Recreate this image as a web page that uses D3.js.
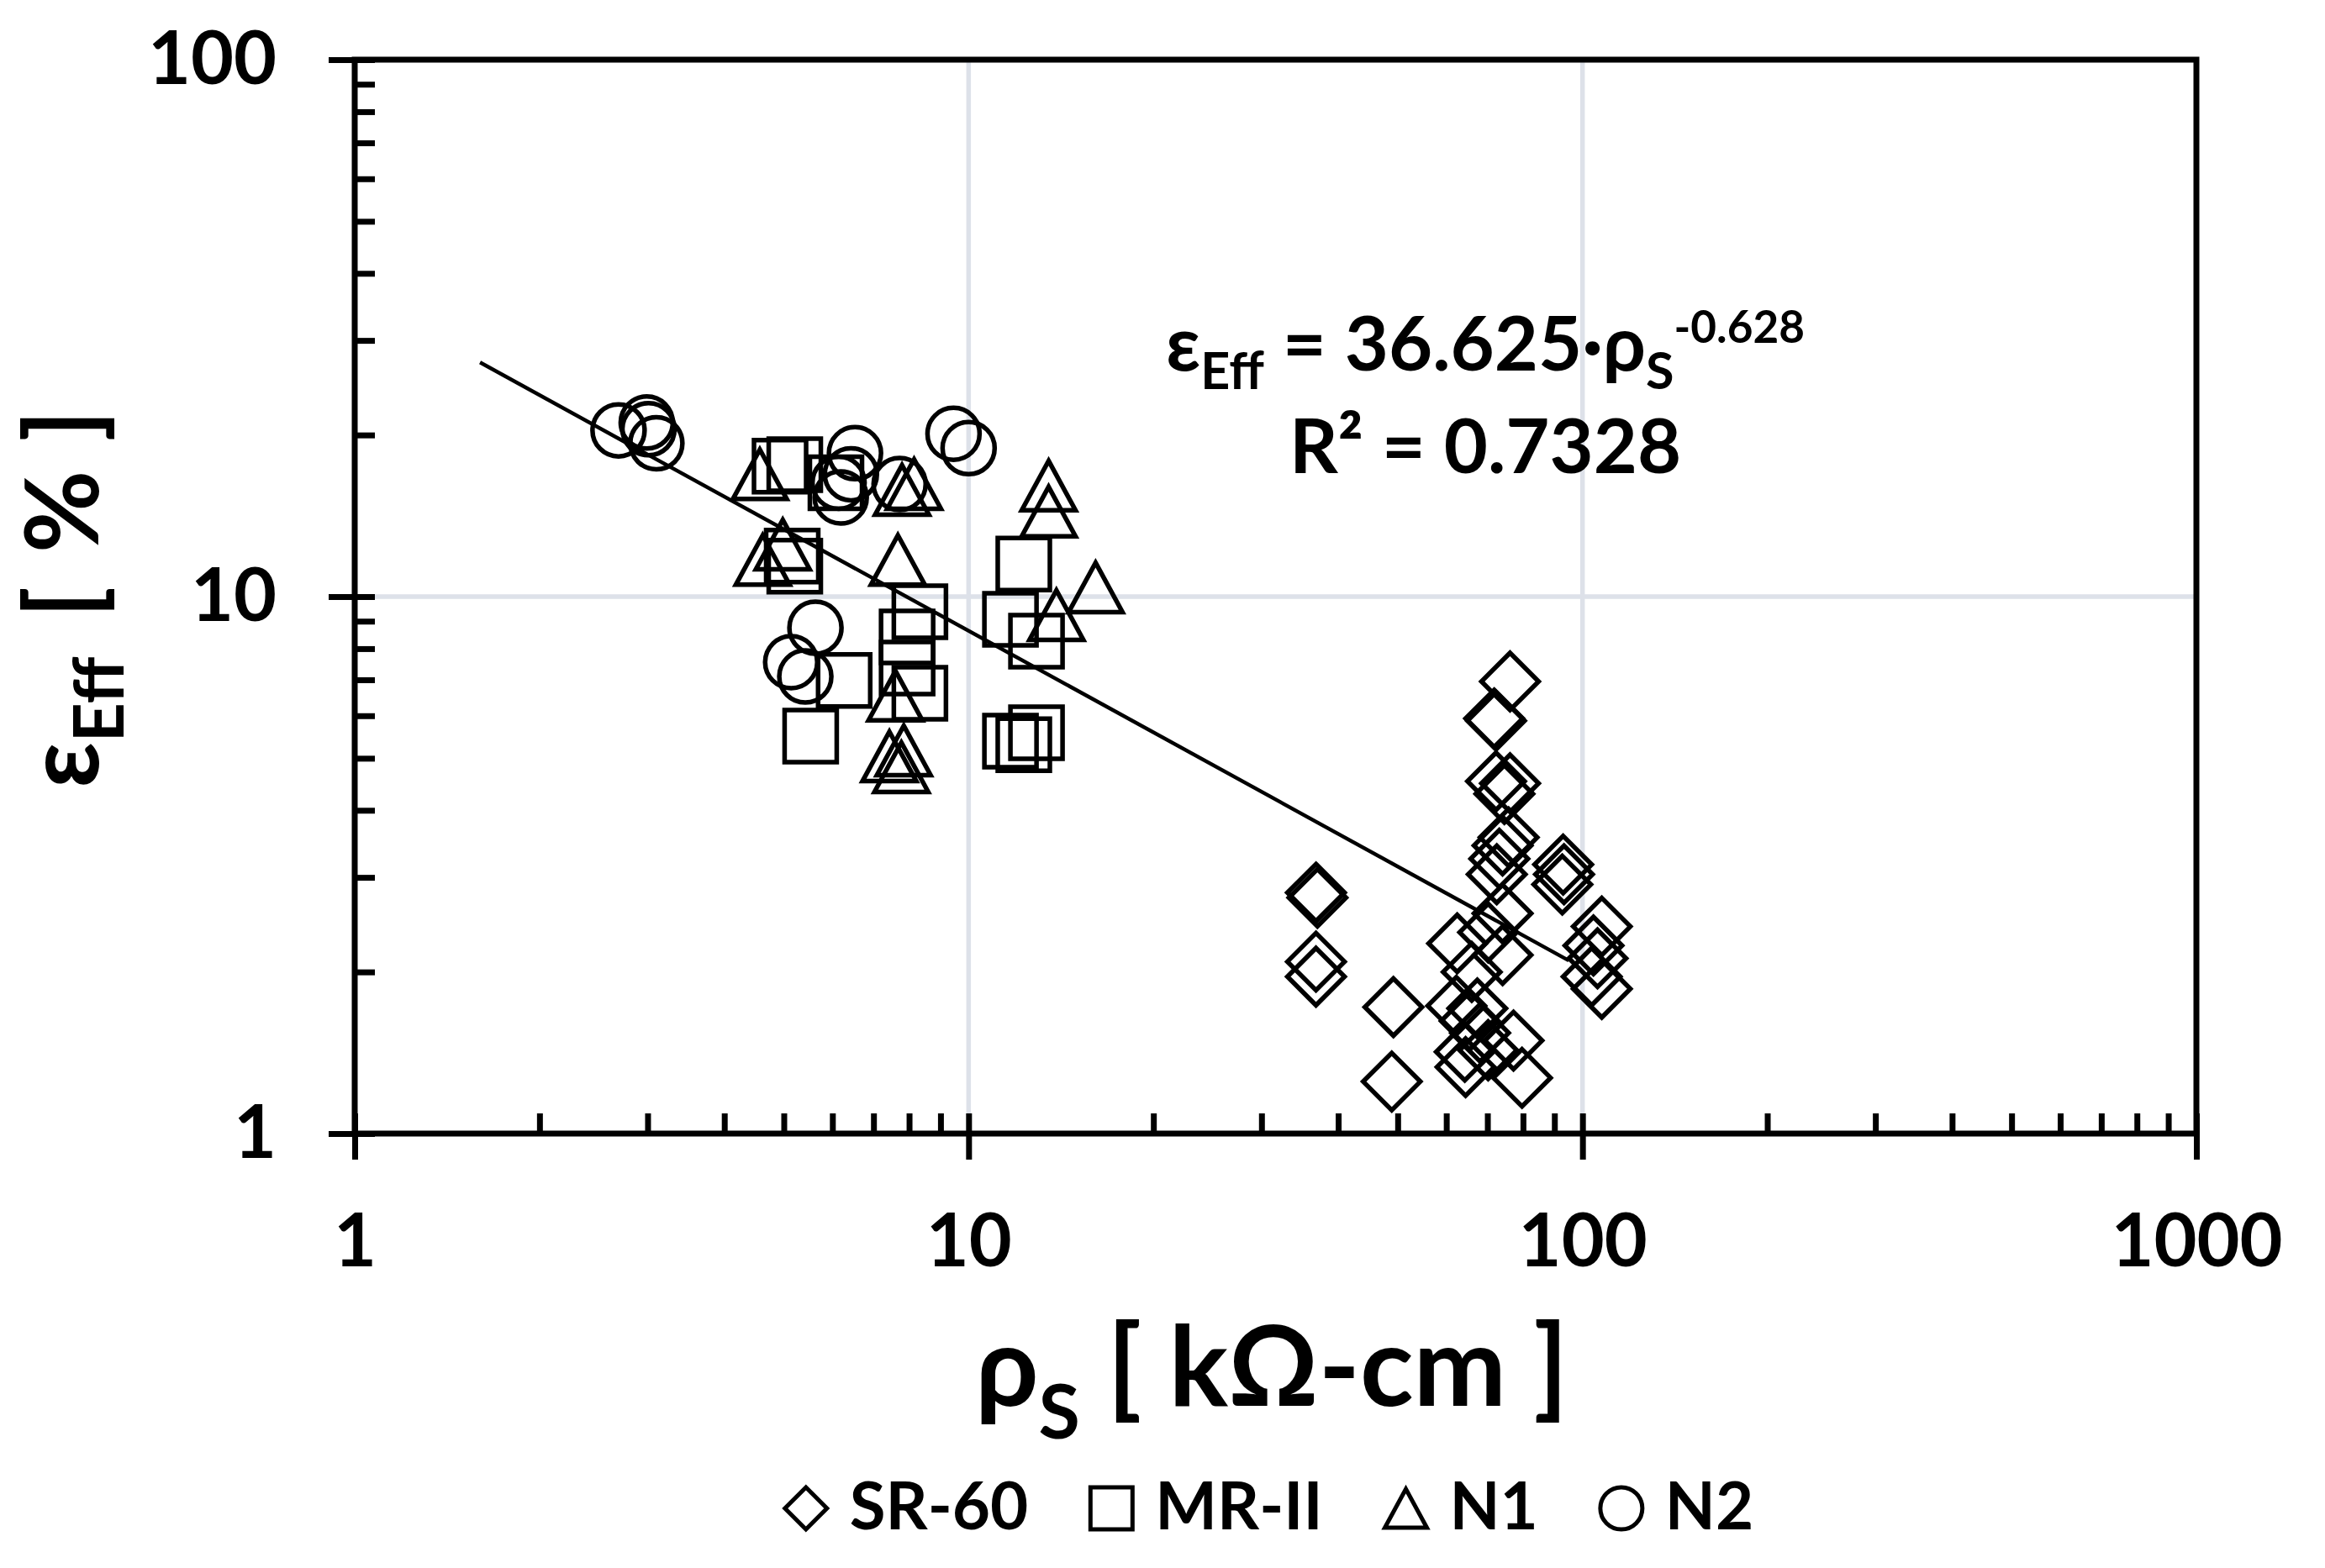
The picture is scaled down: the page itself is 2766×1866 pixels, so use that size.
<!DOCTYPE html>
<html>
<head>
<meta charset="utf-8">
<script src="https://cdn.jsdelivr.net/npm/d3@7"></script>
<style>
  body { margin: 0; background: #fff; }
  svg text { font-family: Lato, "Open Sans", "Noto Sans", sans-serif; font-weight: bold; fill: #000; }
</style>
</head>
<body>
<div id="chart"></div>
<script>
// Data
var sr60Rho = [76.2, 71.8, 72.3, 72.3, 76.2, 74.6, 75.8, 73.2, 72.5, 74.1, 93.0, 93.3, 92.7, 36.8, 37.0, 36.8, 36.8, 49.2, 48.9,
  62.5, 74.1, 70.2, 74.1, 66.0, 62.3, 67.4, 77.2, 64.3, 64.5, 70.2, 79.7, 107.5, 105.8, 103.5, 107.5, 104.2, 68.1, 65.5];
var sr60Eff = [6.95, 5.93, 5.87, 4.53, 4.49, 4.29, 3.56, 3.25, 3.04, 3.44, 3.17, 3.04, 2.91, 2.81, 2.75, 2.09, 1.96, 1.72, 1.25,
  2.26, 2.57, 2.37, 2.15, 2.00, 1.73, 1.71, 1.49, 1.42, 1.33, 1.43, 1.27, 2.43, 2.12, 1.96, 1.86, 2.24, 1.54, 1.62];

var mr2Rho = [4.93, 5.21, 6.08, 5.16, 5.21, 6.27, 5.53, 8.33, 7.94, 7.94, 8.33, 12.3, 11.7, 12.9, 12.9, 11.7, 12.3];
var mr2Eff = [17.5, 17.6, 16.3, 11.9, 11.4, 6.98, 5.50, 9.37, 8.41, 7.36, 6.61, 11.5, 9.07, 8.26, 5.58, 5.38, 5.30];

var n1Rho = [4.57, 4.98, 4.62, 7.79, 8.15, 7.67, 7.60, 7.43, 7.84, 7.77, 13.5, 13.5, 13.9, 16.1];
var n1Eff = [16.9, 12.5, 11.7, 15.8, 16.2, 11.7, 6.54, 5.04, 5.17, 4.81, 16.1, 14.4, 9.24, 10.4];

var n2Rho = [2.69, 2.99, 3.01, 3.10, 6.53, 6.14, 6.19, 6.43, 7.72, 9.45, 10.0, 5.63, 5.14, 5.42];
var n2Eff = [20.4, 21.1, 20.5, 19.3, 18.5, 16.3, 15.3, 16.9, 16.2, 20.1, 18.9, 8.75, 7.55, 7.10];

// power trendline end points
var trendRho = [1.6, 95];
var trendEff = [27.3, 2.10];

var seriesNames = ["SR-60", "MR-II", "N1", "N2"];
var xTickValues = [1, 10, 100, 1000];
var yTickValues = [1, 10, 100];
var xGridValues = [10, 100];
var yGridValues = [10];

var svgWidth = 2766;
var svgHeight = 1866;

var margin = {
  top: 71,
  right: 153,
  bottom: 517,
  left: 422
};

var width = svgWidth - margin.left - margin.right;
var height = svgHeight - margin.top - margin.bottom;

var svg = d3.select("#chart")
  .append("svg")
  .attr("width", svgWidth)
  .attr("height", svgHeight)
  .style("background", "#fff");

var chartGroup = svg.append("g")
  .attr("transform", `translate(${margin.left}, ${margin.top})`);

// Scales
var xLogScale = d3.scaleLog()
  .domain([1, 1000])
  .range([0, width]);

var yLogScale = d3.scaleLog()
  .domain([1, 100])
  .range([height, 0]);

// Marker shapes (size = half extent)
var diamondType = {
  draw: function(ctx, r) {
    ctx.moveTo(0, -r); ctx.lineTo(r, 0); ctx.lineTo(0, r); ctx.lineTo(-r, 0); ctx.closePath();
  }
};
var squareType = {
  draw: function(ctx, r) { ctx.rect(-r, -r, 2 * r, 2 * r); }
};
var triangleType = {
  draw: function(ctx, r) {
    ctx.moveTo(0, -0.92 * r); ctx.lineTo(r, 0.92 * r); ctx.lineTo(-r, 0.92 * r); ctx.closePath();
  }
};
var circleType = {
  draw: function(ctx, r) { ctx.moveTo(r, 0); ctx.arc(0, 0, r, 0, 2 * Math.PI); }
};

var series = [
  { name: seriesNames[0], rho: sr60Rho, eff: sr60Eff, type: diamondType, size: 34 },
  { name: seriesNames[1], rho: mr2Rho, eff: mr2Eff, type: squareType, size: 31 },
  { name: seriesNames[2], rho: n1Rho, eff: n1Eff, type: triangleType, size: 32 },
  { name: seriesNames[3], rho: n2Rho, eff: n2Eff, type: circleType, size: 31 }
];

// Gridlines
chartGroup.selectAll(".gridX")
  .data(xGridValues)
  .enter()
  .append("line")
  .attr("x1", d => xLogScale(d))
  .attr("x2", d => xLogScale(d))
  .attr("y1", 0)
  .attr("y2", height)
  .attr("stroke", "#dde1e9")
  .attr("stroke-width", 5.5);

chartGroup.selectAll(".gridY")
  .data(yGridValues)
  .enter()
  .append("line")
  .attr("x1", 0)
  .attr("x2", width)
  .attr("y1", d => yLogScale(d))
  .attr("y2", d => yLogScale(d))
  .attr("stroke", "#dde1e9")
  .attr("stroke-width", 5.5);

// Axes: minor ticks inside, major ticks outside with labels
function styleAxis(g, fontSize) {
  g.select(".domain").remove();
  g.selectAll("line").attr("stroke", "#000").attr("stroke-width", 7);
  g.selectAll("text").style("font-size", fontSize + "px").attr("fill", "#000");
}

chartGroup.append("g")
  .attr("transform", `translate(0, ${height})`)
  .call(d3.axisBottom(xLogScale).tickValues(xLogScale.ticks()).tickSize(-24).tickFormat(""))
  .call(g => styleAxis(g, 10));

chartGroup.append("g")
  .attr("transform", `translate(0, ${height})`)
  .call(d3.axisBottom(xLogScale).tickValues(xTickValues).tickSize(31).tickPadding(65).tickFormat(d => d))
  .call(g => styleAxis(g, 88));

chartGroup.append("g")
  .call(d3.axisLeft(yLogScale).tickValues(yLogScale.ticks()).tickSize(-24).tickFormat(""))
  .call(g => styleAxis(g, 10));

chartGroup.append("g")
  .call(d3.axisLeft(yLogScale).tickValues(yTickValues).tickSize(31).tickPadding(62).tickFormat(d => d))
  .call(g => styleAxis(g, 88));

// Plot border
chartGroup.append("rect")
  .attr("x", 0)
  .attr("y", 0)
  .attr("width", width)
  .attr("height", height)
  .attr("fill", "none")
  .attr("stroke", "#000")
  .attr("stroke-width", 7);

// Markers
series.forEach(function(s) {
  var pts = s.rho.map((r, i) => ({ rho: r, eff: s.eff[i] }));
  chartGroup.append("g")
    .selectAll("path")
    .data(pts)
    .enter()
    .append("path")
    .attr("transform", d => `translate(${xLogScale(d.rho)}, ${yLogScale(d.eff)})`)
    .attr("d", d3.symbol().type(s.type).size(s.size))
    .attr("fill", "none")
    .attr("stroke", "#000")
    .attr("stroke-width", 5.5);
});

// Trendline
var trendPts = trendRho.map((r, i) => ({ rho: r, eff: trendEff[i] }));
chartGroup.append("path")
  .datum(trendPts)
  .attr("d", d3.line().x(d => xLogScale(d.rho)).y(d => yLogScale(d.eff)))
  .attr("fill", "none")
  .attr("stroke", "#000")
  .attr("stroke-width", 4.5);

// Equation label
var eq = svg.append("text")
  .attr("x", 1767)
  .attr("y", 441)
  .attr("text-anchor", "middle")
  .style("font-size", "90px");
eq.append("tspan").text("ε");
eq.append("tspan").attr("dy", 22).style("font-size", "61px").text("Eff");
eq.append("tspan").attr("dy", -22).text(" = 36.625·ρ");
eq.append("tspan").attr("dy", 22).style("font-size", "61px").text("S");
eq.append("tspan").attr("dy", -55).style("font-size", "53px").text("-0.628");

svg.append("text")
  .attr("x", 1767)
  .attr("y", 563)
  .attr("text-anchor", "middle")
  .style("font-size", "90px")
  .text("R² = 0.7328");

// Axes labels
var xTitle = svg.append("text")
  .attr("x", 1513)
  .attr("y", 1673)
  .attr("text-anchor", "middle")
  .style("font-size", "132px");
xTitle.append("tspan").text("ρ");
xTitle.append("tspan").attr("dy", 39).style("font-size", "90px").text("S");
xTitle.append("tspan").attr("dy", -39).text(" [ kΩ-cm ]");

var yTitle = svg.append("text")
  .attr("transform", "translate(117, 713) rotate(-90)")
  .attr("text-anchor", "middle")
  .style("font-size", "120px");
yTitle.append("tspan").text("ε");
yTitle.append("tspan").attr("dy", 30).style("font-size", "82px").text("Eff");
yTitle.append("tspan").attr("dy", -30).attr("dx", 46).text("[");
yTitle.append("tspan").attr("dx", 40).text("%");
yTitle.append("tspan").attr("dx", 34).text("]");

// Legend: marker, text, gap, laid out in a row and centred
var legendCenter = 1509;
var legendGroup = svg.append("g");
var legendX = 0;
series.forEach(function(s, i) {
  legendGroup.append("path")
    .attr("transform", `translate(${legendX + 27}, 1795)`)
    .attr("d", d3.symbol().type(s.type).size(25))
    .attr("fill", "none")
    .attr("stroke", "#000")
    .attr("stroke-width", 5);
  var t = legendGroup.append("text")
    .attr("x", legendX + 79)
    .attr("y", 1820)
    .style("font-size", "78px")
    .text(s.name);
  legendX += 79 + t.node().getComputedTextLength() + (i < series.length - 1 ? 72 : 0);
});
legendGroup.attr("transform", `translate(${legendCenter - legendX / 2}, 0)`);
</script>
</body>
</html>
